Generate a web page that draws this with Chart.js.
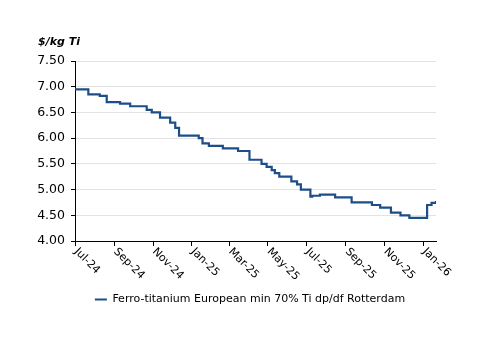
<!DOCTYPE html>
<html lang="en">
<head>
<meta charset="UTF-8">
<title>Ferro-titanium price</title>
<style>
    html, body { margin: 0; padding: 0; background: #fff; }
    #wrap { width: 500px; height: 353px; }
</style>
</head>
<body>
<div id="wrap"><canvas id="priceChart" width="500" height="353"></canvas></div>

<script src="https://cdn.jsdelivr.net/npm/chart.js"></script>
<script>
    // price assessments (date the price changed, new price in $/kg Ti)
    const priceDates = [
        '2024-07-01', '2024-07-22', '2024-08-09', '2024-08-20', '2024-09-10', '2024-09-26',
        '2024-10-22', '2024-10-30', '2024-11-12', '2024-11-28', '2024-12-06', '2024-12-12',
        '2025-01-12', '2025-01-18', '2025-01-28', '2025-02-19', '2025-03-15', '2025-04-02',
        '2025-04-21', '2025-04-29', '2025-05-07', '2025-05-12', '2025-05-19', '2025-06-07',
        '2025-06-16', '2025-06-22', '2025-07-07', '2025-07-10', '2025-07-22', '2025-08-15',
        '2025-09-10', '2025-10-12', '2025-10-25', '2025-11-11', '2025-11-26', '2025-12-10',
        '2026-01-07', '2026-01-14', '2026-01-21'
    ];
    const priceValues = [
        6.95, 6.85, 6.82, 6.70, 6.67, 6.62,
        6.55, 6.50, 6.40, 6.30, 6.20, 6.05,
        6.00, 5.90, 5.85, 5.80, 5.75, 5.58,
        5.50, 5.44, 5.38, 5.32, 5.25, 5.16,
        5.10, 5.00, 4.86, 4.88, 4.90, 4.85,
        4.75, 4.70, 4.65, 4.55, 4.50, 4.45,
        4.70, 4.74, 4.78
    ];
    const tickDates = ['2024-07-01', '2024-09-01', '2024-11-01', '2025-01-01', '2025-03-01',
        '2025-05-01', '2025-07-01', '2025-09-01', '2025-11-01', '2026-01-01'];
    const tickLabels = ['Jul-24', 'Sep-24', 'Nov-24', 'Jan-25', 'Mar-25',
        'May-25', 'Jul-25', 'Sep-25', 'Nov-25', 'Jan-26'];
    const seriesName = 'Ferro-titanium European min 70% Ti dp/df Rotterdam';
    const unitLabel = '$/kg Ti';

    const FONT = '"DejaVu Sans", Verdana, sans-serif';
    const LINE_COLOR = '#1d4e8a';

    // days since the first date, used as the x value
    const start = Date.parse(priceDates[0]);
    const toDay = d => (Date.parse(d) - start) / 86400000;
    const points = priceDates.map((d, i) => ({ x: toDay(d), y: priceValues[i] }));
    const tickDays = tickDates.map(toDay);

    // unit label over the value axis
    const unitTitle = {
        id: 'unitTitle',
        afterDraw(chart) {
            const ctx = chart.ctx;
            const area = chart.chartArea;
            ctx.save();
            ctx.font = 'italic bold 11px ' + FONT;
            ctx.fillStyle = '#000';
            ctx.textAlign = 'left';
            ctx.textBaseline = 'middle';
            ctx.fillText(unitLabel, area.left - 37, area.top - 19);
            ctx.restore();
        }
    };

    // month labels slanting down to the right from each tick
    const slantLabels = {
        id: 'slantLabels',
        afterDraw(chart) {
            const ctx = chart.ctx;
            const scale = chart.scales.x;
            ctx.save();
            ctx.font = '11px ' + FONT;
            ctx.fillStyle = '#000';
            ctx.textAlign = 'left';
            ctx.textBaseline = 'middle';
            tickDays.forEach((d, i) => {
                const px = scale.getPixelForValue(d);
                ctx.save();
                ctx.translate(px + 1, scale.top + 9);
                ctx.rotate(Math.PI / 4);
                ctx.fillText(tickLabels[i], 0, 0);
                ctx.restore();
            });
            ctx.restore();
        }
    };

    new Chart(document.getElementById('priceChart'), {
        type: 'line',
        data: {
            datasets: [{
                label: seriesName,
                data: points,
                borderColor: LINE_COLOR,
                backgroundColor: LINE_COLOR,
                borderWidth: 2.2,
                stepped: true,
                pointRadius: 0,
                fill: false
            }]
        },
        options: {
            responsive: false,
            animation: false,
            layout: { padding: { top: 61, bottom: 38, left: 0, right: 0 } },
            scales: {
                x: {
                    type: 'linear',
                    min: 0,
                    max: toDay('2026-01-21'),
                    afterBuildTicks: s => { s.ticks = tickDays.map(v => ({ value: v })); },
                    afterFit: s => { s.height = 43; },
                    grid: { drawOnChartArea: false, drawTicks: true, tickLength: 5, tickColor: '#000' },
                    border: { color: '#000', width: 1 },
                    ticks: { display: false }
                },
                y: {
                    min: 4,
                    max: 7.5,
                    afterFit: s => { s.width = 75; },
                    grid: { color: '#e3e3e3', lineWidth: 1, tickLength: 4, tickColor: '#000' },
                    border: { color: '#000', width: 1 },
                    ticks: {
                        stepSize: 0.5,
                        padding: 6,
                        color: '#000',
                        font: { family: FONT, size: 12.5 },
                        callback: v => v.toFixed(2)
                    }
                },
                // empty right axis to keep the plot off the right edge
                yRight: {
                    type: 'linear',
                    position: 'right',
                    afterFit: s => { s.width = 64; },
                    grid: { display: false },
                    border: { display: false },
                    ticks: { display: false }
                }
            },
            plugins: {
                legend: {
                    position: 'bottom',
                    labels: {
                        boxWidth: 12,
                        boxHeight: 2,
                        color: '#000',
                        font: { family: FONT, size: 11 },
                        generateLabels: chart => Chart.defaults.plugins.legend.labels.generateLabels(chart)
                            .map(l => Object.assign(l, { lineWidth: 0 }))
                    }
                },
                tooltip: { enabled: false }
            }
        },
        plugins: [unitTitle, slantLabels]
    });
</script>
</body>
</html>
